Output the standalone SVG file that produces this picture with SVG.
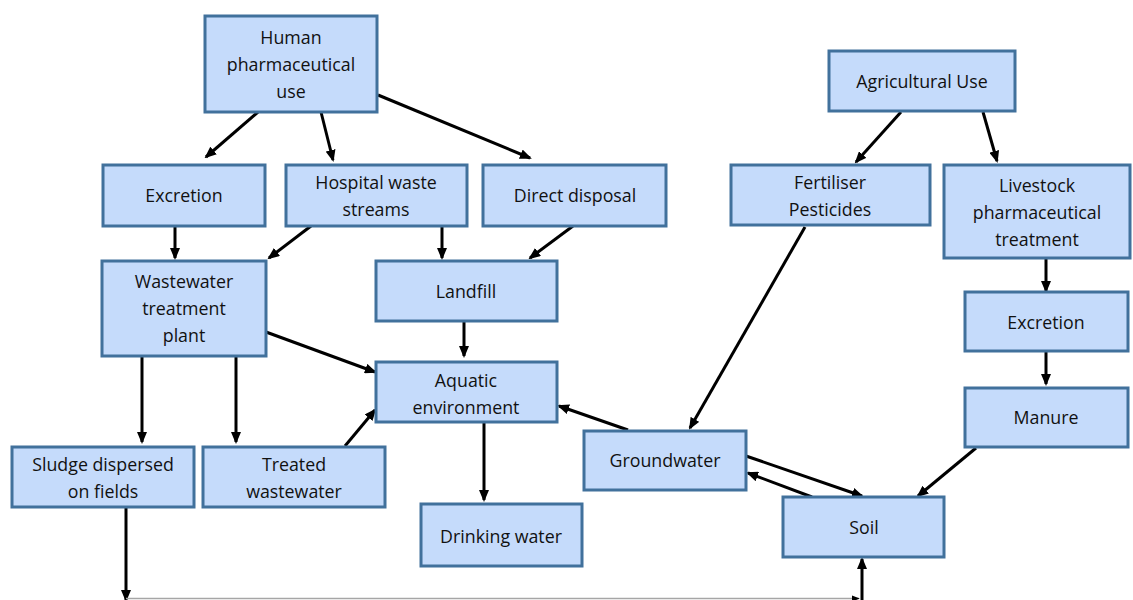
<svg xmlns="http://www.w3.org/2000/svg" width="1133" height="600" viewBox="0 0 1133 600">
  <defs>
    <style>
      .box { fill: #c5dbfb; stroke: #41719c; stroke-width: 3; }
      .lbl { font-family: "Open Sans", "Liberation Sans", sans-serif; font-size: 17.8px; fill: #111111; text-anchor: middle; }
      .arr { stroke: #000; stroke-width: 3; fill: none; marker-end: url(#head); }
      .flow { stroke: #a6a6a6; stroke-width: 1.5; fill: none; marker-end: url(#headGrey); }
    </style>
    <marker id="head" viewBox="0 0 12 10" refX="10" refY="5" markerWidth="12" markerHeight="10" markerUnits="userSpaceOnUse" orient="auto">
      <path d="M0,0 L12,5 L0,10 z" fill="#000"/>
    </marker>
    <marker id="headGrey" viewBox="0 0 10 8" refX="9" refY="4" markerWidth="8" markerHeight="7" markerUnits="userSpaceOnUse" orient="auto">
      <path d="M0,0 L10,4 L0,8 z" fill="#000"/>
    </marker>
  </defs>

  <rect width="1133" height="600" fill="#ffffff"/>

  <!-- connectors -->
  <g id="connectors">
    <line class="arr" x1="258" y1="112" x2="206" y2="157"/>
    <line class="arr" x1="321" y1="112" x2="333" y2="160"/>
    <line class="arr" x1="378" y1="95" x2="530" y2="158"/>
    <line class="arr" x1="175" y1="226" x2="175" y2="258"/>
    <line class="arr" x1="311" y1="226" x2="269" y2="258"/>
    <line class="arr" x1="442" y1="226" x2="442" y2="258"/>
    <line class="arr" x1="573" y1="226" x2="530" y2="258"/>
    <line class="arr" x1="464" y1="321" x2="464" y2="356"/>
    <line class="arr" x1="266" y1="332" x2="375" y2="372"/>
    <line class="arr" x1="142" y1="356" x2="142" y2="442"/>
    <line class="arr" x1="236" y1="356" x2="236" y2="442"/>
    <line class="arr" x1="345" y1="446" x2="375" y2="410"/>
    <line class="arr" x1="484" y1="422" x2="484" y2="500"/>
    <line class="arr" x1="628" y1="430" x2="559" y2="406"/>
    <line class="arr" x1="901" y1="112" x2="856" y2="162"/>
    <line class="arr" x1="983" y1="112" x2="997" y2="161"/>
    <line class="arr" x1="805" y1="227" x2="690" y2="428"/>
    <line class="arr" x1="1046" y1="259" x2="1046" y2="291"/>
    <line class="arr" x1="1046" y1="351" x2="1046" y2="384"/>
    <line class="arr" x1="976" y1="448" x2="918" y2="496"/>
    <line class="arr" x1="746" y1="456" x2="862" y2="496"/>
    <line class="arr" x1="812" y1="497" x2="748" y2="473"/>
    <line class="arr" x1="126" y1="507" x2="126" y2="600"/>
    <line class="flow" x1="126" y1="598.5" x2="859" y2="598.5"/>
    <line class="arr" x1="862" y1="600" x2="862" y2="559"/>
  </g>

  <!-- human use branch -->
  <g id="human-use">
    <rect class="box" x="205" y="16" width="172" height="96"/>
    <text class="lbl" x="291" y="44">Human</text>
    <text class="lbl" x="291" y="71">pharmaceutical</text>
    <text class="lbl" x="291" y="98">use</text>
  </g>
  <g id="excretion-human">
    <rect class="box" x="103" y="165" width="162" height="61"/>
    <text class="lbl" x="184" y="202">Excretion</text>
  </g>
  <g id="hospital-waste">
    <rect class="box" x="286" y="165" width="181" height="61"/>
    <text class="lbl" x="376" y="189">Hospital waste</text>
    <text class="lbl" x="376" y="216">streams</text>
  </g>
  <g id="direct-disposal">
    <rect class="box" x="483" y="165" width="183" height="61"/>
    <text class="lbl" x="575" y="202">Direct disposal</text>
  </g>
  <g id="wastewater-plant">
    <rect class="box" x="102" y="261" width="164" height="95"/>
    <text class="lbl" x="184" y="288">Wastewater</text>
    <text class="lbl" x="184" y="315">treatment</text>
    <text class="lbl" x="184" y="342">plant</text>
  </g>
  <g id="landfill">
    <rect class="box" x="376" y="261" width="181" height="60"/>
    <text class="lbl" x="466" y="298">Landfill</text>
  </g>
  <g id="aquatic-environment">
    <rect class="box" x="376" y="362" width="181" height="60"/>
    <text class="lbl" x="466" y="387">Aquatic</text>
    <text class="lbl" x="466" y="414">environment</text>
  </g>
  <g id="sludge">
    <rect class="box" x="12" y="447" width="182" height="60"/>
    <text class="lbl" x="103" y="471">Sludge dispersed</text>
    <text class="lbl" x="103" y="498">on fields</text>
  </g>
  <g id="treated-wastewater">
    <rect class="box" x="203" y="447" width="182" height="60"/>
    <text class="lbl" x="294" y="471">Treated</text>
    <text class="lbl" x="294" y="498">wastewater</text>
  </g>
  <g id="drinking-water">
    <rect class="box" x="421" y="504" width="161" height="62"/>
    <text class="lbl" x="501" y="543">Drinking water</text>
  </g>

  <!-- agricultural branch -->
  <g id="agricultural-use">
    <rect class="box" x="829" y="51" width="186" height="60"/>
    <text class="lbl" x="922" y="88">Agricultural Use</text>
  </g>
  <g id="fertiliser-pesticides">
    <rect class="box" x="731" y="165" width="199" height="60"/>
    <text class="lbl" x="830" y="189">Fertiliser</text>
    <text class="lbl" x="830" y="216">Pesticides</text>
  </g>
  <g id="livestock-treatment">
    <rect class="box" x="944" y="165" width="186" height="93"/>
    <text class="lbl" x="1037" y="192">Livestock</text>
    <text class="lbl" x="1037" y="219">pharmaceutical</text>
    <text class="lbl" x="1037" y="246">treatment</text>
  </g>
  <g id="excretion-livestock">
    <rect class="box" x="965" y="292" width="163" height="59"/>
    <text class="lbl" x="1046" y="329">Excretion</text>
  </g>
  <g id="manure">
    <rect class="box" x="965" y="388" width="163" height="59"/>
    <text class="lbl" x="1046" y="424">Manure</text>
  </g>
  <g id="groundwater">
    <rect class="box" x="584" y="431" width="162" height="59"/>
    <text class="lbl" x="665" y="467">Groundwater</text>
  </g>
  <g id="soil">
    <rect class="box" x="783" y="497" width="161" height="60"/>
    <text class="lbl" x="864" y="534">Soil</text>
  </g>
</svg>
